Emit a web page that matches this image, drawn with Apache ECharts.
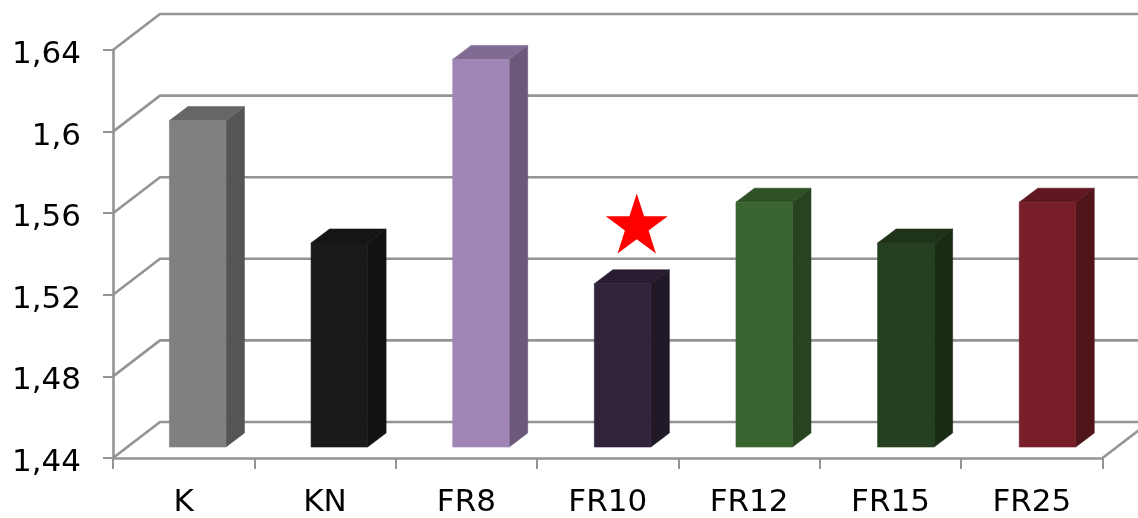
<!DOCTYPE html>
<html>
<head>
<meta charset="utf-8">
<style>html,body{margin:0;padding:0;background:#fff}#chart{width:1138px;height:518px}</style>
<script src="https://cdn.jsdelivr.net/npm/echarts@6/dist/echarts.min.js"></script>
</head>
<body>
<div id="chart"></div>
<script>
// Chart data
const categories = ['K', 'KN', 'FR8', 'FR10', 'FR12', 'FR15', 'FR25'];
const values = [1.6, 1.54, 1.63, 1.52, 1.56, 1.54, 1.56];
const wallTicks = [1.44, 1.48, 1.52, 1.56, 1.6, 1.64];
const starPoint = ['FR10', 1.555];

// Face colours per bar: front, top, side
const frontColors = ['#808080', '#1a1a1a', '#a086b7', '#31233c', '#3a6530', '#254020', '#771e29'];
const topColors = ['#666666', '#151515', '#806b92', '#271c30', '#2e5126', '#1e331a', '#5f1821'];
const sideColors = ['#555555', '#121212', '#6a5979', '#211828', '#274320', '#192b15', '#50141b'];

// Oblique projection of the chart's depth axis, in pixels
const wallDepth = [47, -36];
const barGap = [14, -11];
const barDepth = [18.5, -14];
const barWidth = 56.5;
const barDrift = 0.28;

const lineColor = '#949494';
const labelFont = { fontFamily: 'DejaVu Sans', color: '#000' };

const starPath = 'path://M50 0 L61.8 36.3 L100 36.3 L69.1 58.8 L80.9 95.1 L50 72.6 L19.1 95.1 L30.9 58.8 L0 36.3 L38.2 36.3 Z';

function renderWallLine(params, api) {
  const a = api.coord([0, api.value(0)]);
  const band = api.size([1, 0])[0];
  const left = a[0] - band / 2;
  const right = left + band * categories.length;
  const y = a[1];
  const pts = [[left, y], [left + wallDepth[0], y + wallDepth[1]], [right + wallDepth[0], y + wallDepth[1]]];
  if (api.value(0) === wallTicks[0]) pts.push([right, y]);
  return {
    type: 'polyline',
    shape: { points: pts },
    style: { fill: null, stroke: lineColor, lineWidth: 2.6 },
    silent: true
  };
}

function renderBar(params, api) {
  const i = params.dataIndex;
  const base = api.coord([i, wallTicks[0]]);
  const top = api.coord([i, api.value(1)]);
  const x0 = base[0] + barGap[0] + barDrift * i - barWidth / 2;
  const x1 = x0 + barWidth;
  const yb = base[1] + barGap[1];
  const yt = top[1] + barGap[1];
  const dx = barDepth[0], dy = barDepth[1];
  const face = (points, fill) => ({ type: 'polygon', shape: { points }, style: { fill, stroke: fill, lineWidth: 0.6 } });
  return {
    type: 'group',
    children: [
      face([[x1, yt], [x1 + dx, yt + dy], [x1 + dx, yb + dy], [x1, yb]], sideColors[i]),
      face([[x0, yt], [x0 + dx, yt + dy], [x1 + dx, yt + dy], [x1, yt]], topColors[i]),
      face([[x0, yt], [x1, yt], [x1, yb], [x0, yb]], frontColors[i])
    ]
  };
}

const chart = echarts.init(document.getElementById('chart'), null, { renderer: 'canvas' });
chart.setOption({
  animation: false,
  backgroundColor: '#fff',
  grid: { left: 113, top: 50, width: 989.5, height: 408, containLabel: false },
  xAxis: {
    type: 'category',
    data: categories,
    boundaryGap: true,
    axisLine: { show: true, lineStyle: { color: lineColor, width: 2.6 } },
    axisTick: { show: true, alignWithLabel: false, length: 11, lineStyle: { color: lineColor, width: 2 } },
    axisLabel: { ...labelFont, fontSize: 31, margin: 29, interval: 0 },
    splitLine: { show: false }
  },
  yAxis: {
    type: 'value',
    min: 1.44,
    max: 1.64,
    interval: 0.04,
    axisLine: { show: true, lineStyle: { color: lineColor, width: 2.6 } },
    axisTick: { show: true, length: 10, lineStyle: { color: lineColor, width: 2 } },
    // A short line box hung from the tick sets the labels just below tick level
    axisLabel: { ...labelFont, fontSize: 31, margin: 32, verticalAlign: 'top', lineHeight: 10, formatter: v => String(+v.toFixed(2)).replace('.', ',') },
    splitLine: { show: false }
  },
  series: [
    {
      type: 'custom',
      name: 'walls',
      renderItem: renderWallLine,
      data: wallTicks.map(v => [v]),
      encode: { y: 0 },
      clip: false,
      z: 1,
      silent: true
    },
    {
      type: 'custom',
      name: 'bars',
      renderItem: renderBar,
      data: values.map((v, i) => [i, v]),
      encode: { x: 0, y: 1 },
      clip: false,
      z: 3,
      silent: true
    },
    {
      type: 'scatter',
      name: 'marker',
      data: [starPoint],
      symbol: starPath,
      symbolSize: [62, 60],
      symbolOffset: [29, 0],
      itemStyle: { color: '#ff0000', opacity: 1 },
      z: 4,
      silent: true
    }
  ]
});
</script>
</body>
</html>
